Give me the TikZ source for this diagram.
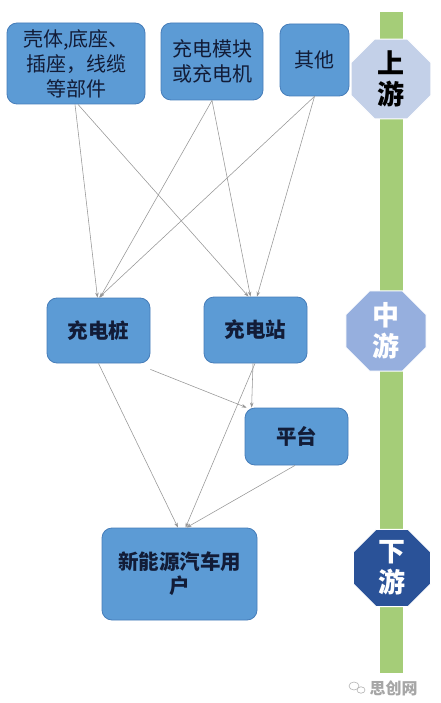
\documentclass[tikz,border=0pt]{standalone}
\usepackage{fontspec}
\setmainfont{Noto Sans CJK SC}
\usetikzlibrary{arrows.meta,shapes.geometric}
\definecolor{boxfill}{RGB}{92,155,213}
\definecolor{boxline}{RGB}{70,125,185}
\definecolor{boxtext}{RGB}{18,28,55}
\definecolor{bar}{RGB}{165,205,120}
\definecolor{hexA}{RGB}{195,208,232}
\definecolor{hexB}{RGB}{150,175,222}
\definecolor{hexC}{RGB}{42,82,152}
\definecolor{conn}{RGB}{150,150,150}
\tikzset{
  box/.style={draw=boxline, line width=0.8pt, fill=boxfill, rounded corners=10pt,
    text=boxtext, align=center, inner sep=0pt},
  topbox/.style={box, font=\fontsize{20}{25}\selectfont},
  midbox/.style={box, font=\fontsize{20.5}{24}\selectfont\bfseries},
  stage/.style={regular polygon, regular polygon sides=8, minimum size=82pt,
    draw=white, line width=1pt, inner sep=0pt, align=center,
    font=\fontsize{27}{31}\selectfont\bfseries},
  link/.style={draw=conn, line width=0.55pt, -{Stealth[length=5pt,width=3.5pt]}}
}
\begin{document}
\begin{tikzpicture}[x=1pt,y=-1pt]
\useasboundingbox (0,0) rectangle (440,703);
\fill[white] (0,0) rectangle (440,703);
% green bar
\fill[bar] (380,12) rectangle (403,673);
% stage markers
\node[stage, fill=hexA, text=black] (up) at (391,79) {上\\游};
\node[stage, fill=hexB, text=white] (mid) at (386,331) {中\\游};
\node[stage, fill=hexC, text=white] (down) at (392,568) {下\\游};
% boxes
\node[topbox, minimum width=138pt, minimum height=81pt] (parts) at (76,63.5) {壳体,底座、\\插座，线缆\\等部件};
\node[topbox, minimum width=102pt, minimum height=77pt] (module) at (212,61.5) {充电模块\\或充电机};
\node[topbox, minimum width=69pt, minimum height=72pt] (other) at (314.5,60) {其他};
\node[midbox, minimum width=103pt, minimum height=65pt] (pile) at (98.5,330.5) {充电桩};
\node[midbox, minimum width=103pt, minimum height=66pt] (station) at (255.5,330) {充电站};
\node[midbox, minimum width=103pt, minimum height=57pt] (plat) at (296.5,436.5) {平台};
\node[midbox, minimum width=155pt, minimum height=92pt] (user) at (179.5,574) {新能源汽车用\\户};
% connectors upstream -> midstream
\draw[link] ([xshift=-1pt]parts.south) -- ([xshift=-1pt]pile.north);
\draw[link] ([xshift=2pt]parts.south) -- ([xshift=-7pt]station.north);
\draw[link] (module.south) -- ([xshift=1.5pt]pile.north);
\draw[link] (module.south) -- ([xshift=-5pt]station.north);
\draw[link] (other.south) -- ([xshift=0.5pt]pile.north);
\draw[link] (other.south) -- ([xshift=1.5pt]station.north);
% midstream -> downstream
\draw[link] (pile.south) -- ([xshift=-1.5pt]user.north);
\draw[link] ([yshift=-6pt]pile.south east) -- ([xshift=2pt]plat.north west);
\draw[link] ([xshift=-0.5pt]station.south) -- ([xshift=6pt]user.north);
\draw[link] ([xshift=-2.5pt]station.south) -- ([xshift=7pt]plat.north west);
\draw[link] ([xshift=-1.5pt]plat.south) -- ([xshift=7pt]user.north);
% watermark
\node[text=gray!70, font=\fontsize{16}{18}\selectfont\bfseries, anchor=west] (wm) at (366,688) {思创网};
\draw[gray!60, line width=0.6pt] (354,686) ellipse (5pt and 4pt);
\draw[gray!60, line width=0.6pt] (361,690) ellipse (4pt and 3.2pt);
\end{tikzpicture}
\end{document}
